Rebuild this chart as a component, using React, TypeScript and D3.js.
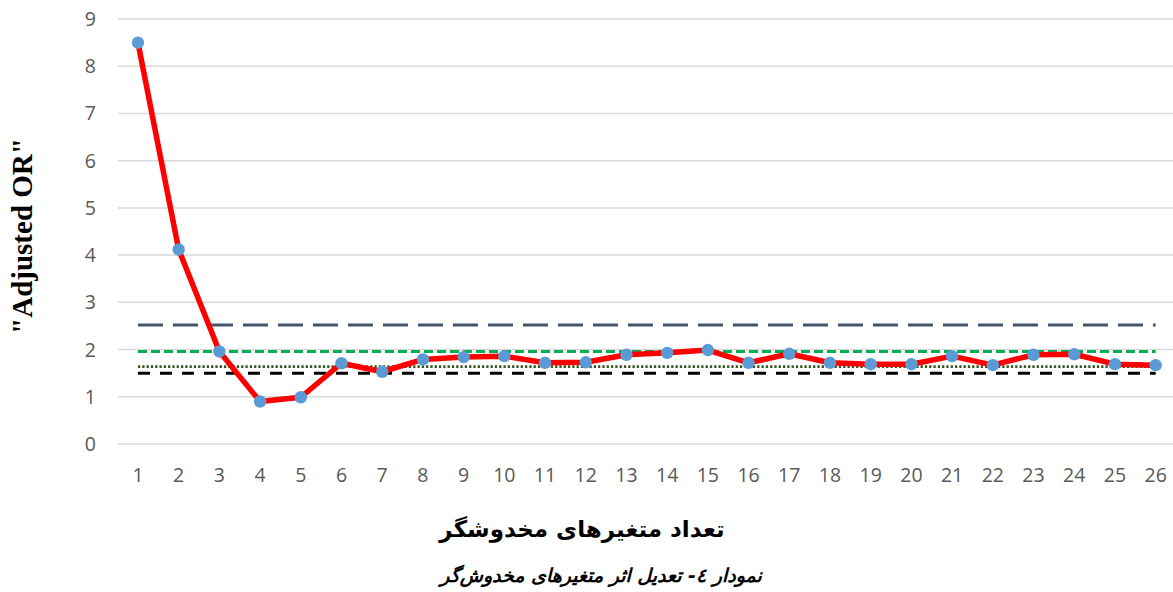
import React, { useEffect, useRef } from "react";
import * as d3 from "d3";

const categories = d3.range(1, 27).map(String);
const adjustedOR = [
  8.5, 4.12, 1.96, 0.9, 0.99, 1.71, 1.53, 1.79, 1.84, 1.86, 1.72, 1.73, 1.89,
  1.93, 1.99, 1.72, 1.91, 1.72, 1.69, 1.69, 1.86, 1.67, 1.89, 1.9, 1.69, 1.67,
];
const yTicks = [0, 1, 2, 3, 4, 5, 6, 7, 8, 9];
const refLines = [
  { value: 2.52, color: "#44546A", dash: "25,10", width: 3 },
  { value: 1.96, color: "#00B050", dash: "9,4", width: 3 },
  { value: 1.64, color: "#375623", dash: "2.3,2", width: 2.8 },
  { value: 1.5, color: "#000000", dash: "12,10", width: 3 },
];

const App = () => {
  const ref = useRef<SVGSVGElement>(null);

  useEffect(() => {
    const svg = d3.select(ref.current);
    svg.selectAll("*").remove();

    const x = d3.scaleBand().domain(categories).range([117.6, 1176]);
    const y = d3.scaleLinear().domain([0, 9]).range([444, 19]);
    const cx = (c: string) => (x(c) as number) + x.bandwidth() / 2;

    // gridlines
    svg
      .append("g")
      .selectAll("line")
      .data(yTicks)
      .enter()
      .append("line")
      .attr("x1", 118)
      .attr("x2", 1173)
      .attr("y1", (d) => y(d))
      .attr("y2", (d) => y(d))
      .attr("stroke", "#d9d9d9")
      .attr("stroke-width", 1.5);

    // y tick labels
    svg
      .append("g")
      .selectAll("text")
      .data(yTicks)
      .enter()
      .append("text")
      .attr("x", 96)
      .attr("y", (d) => y(d))
      .attr("dy", "0.36em")
      .attr("text-anchor", "end")
      .attr("font-family", "Open Sans")
      .attr("font-size", 19.5)
      .attr("fill", "#595959")
      .text((d) => d);

    // x tick labels
    svg
      .append("g")
      .selectAll("text")
      .data(categories)
      .enter()
      .append("text")
      .attr("x", cx)
      .attr("y", 482)
      .attr("text-anchor", "middle")
      .attr("font-family", "Open Sans")
      .attr("font-size", 19.5)
      .attr("fill", "#595959")
      .text((d) => d);

    // reference lines
    svg
      .append("g")
      .selectAll("line")
      .data(refLines)
      .enter()
      .append("line")
      .attr("x1", cx(categories[0]))
      .attr("x2", cx(categories[categories.length - 1]))
      .attr("y1", (d) => y(d.value))
      .attr("y2", (d) => y(d.value))
      .attr("stroke", (d) => d.color)
      .attr("stroke-width", (d) => d.width)
      .attr("stroke-dasharray", (d) => d.dash);

    const line = d3
      .line<number>()
      .x((d, i) => cx(categories[i]))
      .y((d) => y(d));

    svg
      .append("path")
      .attr("d", line(adjustedOR))
      .attr("fill", "none")
      .attr("stroke", "#FF0000")
      .attr("stroke-width", 5.5)
      .attr("stroke-linejoin", "round");

    svg
      .append("g")
      .selectAll("circle")
      .data(adjustedOR)
      .enter()
      .append("circle")
      .attr("cx", (d, i) => cx(categories[i]))
      .attr("cy", (d) => y(d))
      .attr("r", 6.2)
      .attr("fill", "#5B9BD5");

    // axis titles
    svg
      .append("text")
      .attr("transform", "translate(32,236) rotate(-90)")
      .attr("text-anchor", "middle")
      .attr("font-family", "Liberation Serif")
      .attr("font-weight", "bold")
      .attr("font-size", 29)
      .attr("fill", "#000")
      .text('"Adjusted OR"');

    svg
      .append("text")
      .attr("x", 582)
      .attr("y", 537)
      .attr("text-anchor", "middle")
      .attr("direction", "rtl")
      .attr("font-family", "DejaVu Sans")
      .attr("font-weight", "bold")
      .attr("font-size", 23)
      .attr("fill", "#000")
      .text("تعداد متغیرهای مخدوشگر");

    svg
      .append("text")
      .attr("x", 601)
      .attr("y", 582)
      .attr("text-anchor", "middle")
      .attr("direction", "rtl")
      .attr("font-family", "DejaVu Sans")
      .attr("font-weight", "bold")
      .attr("font-style", "italic")
      .attr("font-size", 19)
      .attr("fill", "#000")
      .text("نمودار ٤- تعدیل اثر متغیرهای مخدوش‌گر");
  }, []);

  return (
    <svg
      ref={ref}
      width={1173}
      height={592}
      style={{ position: "absolute", left: 0, top: 0, background: "#fff" }}
    ></svg>
  );
};

export default App;
